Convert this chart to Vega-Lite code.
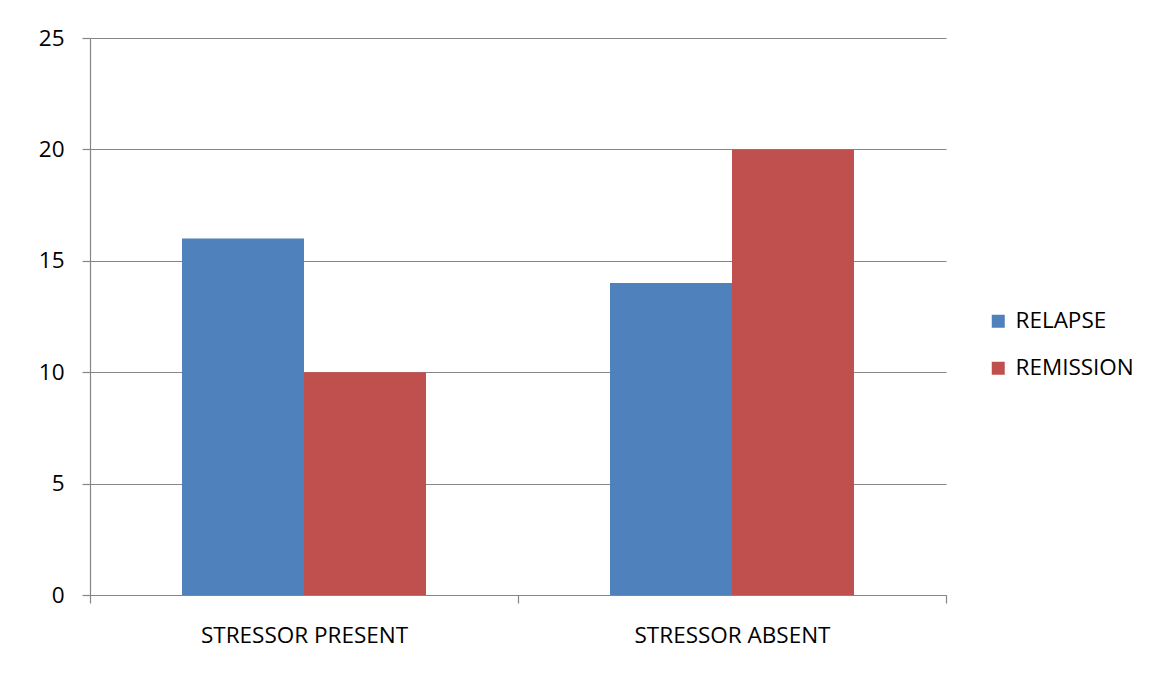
{
  "$schema": "https://vega.github.io/schema/vega-lite/v6.json",
  "autosize": "none",
  "width": 856,
  "height": 557,
  "padding": {"left": 90, "top": 38, "right": 217, "bottom": 83},
  "background": "white",
  "data": {
    "values": [
      {"condition": "STRESSOR PRESENT", "outcome": "RELAPSE", "count": 16},
      {"condition": "STRESSOR PRESENT", "outcome": "REMISSION", "count": 10},
      {"condition": "STRESSOR ABSENT", "outcome": "RELAPSE", "count": 14},
      {"condition": "STRESSOR ABSENT", "outcome": "REMISSION", "count": 20}
    ]
  },
  "mark": {"type": "bar"},
  "encoding": {
    "x": {
      "field": "condition",
      "type": "nominal",
      "sort": ["STRESSOR PRESENT", "STRESSOR ABSENT"],
      "scale": {"paddingInner": 0, "paddingOuter": 0},
      "axis": {
        "title": null,
        "labelAngle": 0,
        "labelLimit": 0,
        "tickBand": "extent",
        "tickSize": 8,
        "labelPadding": 21,
        "domainColor": "#868686",
        "tickColor": "#868686",
        "grid": false
      }
    },
    "xOffset": {
      "field": "outcome",
      "type": "nominal",
      "sort": ["RELAPSE", "REMISSION"],
      "scale": {"paddingInner": 0, "paddingOuter": 0.754}
    },
    "y": {
      "field": "count",
      "type": "quantitative",
      "scale": {"domain": [0, 25], "nice": false},
      "axis": {
        "title": null,
        "values": [0, 5, 10, 15, 20, 25],
        "tickSize": 8,
        "labelPadding": 18,
        "domainColor": "#868686",
        "tickColor": "#868686",
        "gridColor": "#868686",
        "grid": true
      }
    },
    "color": {
      "field": "outcome",
      "type": "nominal",
      "sort": ["RELAPSE", "REMISSION"],
      "scale": {"range": ["#4F81BD", "#C0504D"]},
      "legend": {
        "title": null,
        "orient": "none",
        "legendX": 897,
        "legendY": 272,
        "symbolType": "square",
        "symbolSize": 169,
        "symbolStrokeWidth": 0,
        "rowPadding": 24,
        "labelOffset": 6,
        "labelLimit": 0
      }
    }
  },
  "config": {
    "view": {"stroke": null},
    "font": "Open Sans",
    "axis": {
      "labelFont": "Open Sans",
      "labelFontSize": 22.5,
      "labelColor": "#000000",
      "domainWidth": 1.2,
      "tickWidth": 1.2,
      "gridWidth": 1
    },
    "legend": {
      "labelFont": "Open Sans",
      "labelFontSize": 22.5,
      "labelColor": "#000000"
    }
  }
}
